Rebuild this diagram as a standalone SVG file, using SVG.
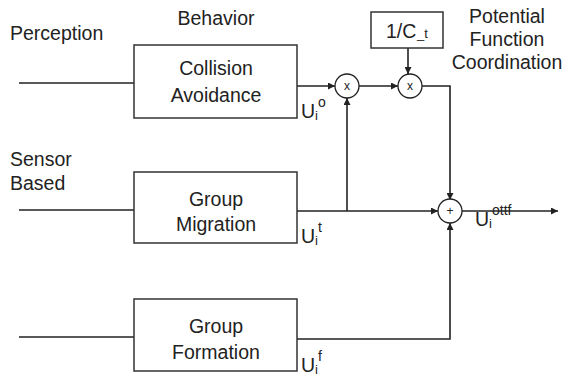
<svg xmlns="http://www.w3.org/2000/svg" width="575" height="379" viewBox="0 0 575 379">
<defs>
<style>
text{font-family:"Liberation Sans",Arial,sans-serif;fill:#222;}
.t{font-size:19.5px;}
.c{text-anchor:middle;}
.s{font-size:13px;}
.p{font-size:14px;}
.box{fill:#fff;stroke:#333;stroke-width:1.5;}
.ln{fill:none;stroke:#222;stroke-width:1.6;}
.ci{fill:#fff;stroke:#222;stroke-width:1.3;}
.op{font-size:12px;text-anchor:middle;}
</style>
<marker id="ah" viewBox="0 0 10 10" refX="10" refY="5" markerWidth="7" markerHeight="7" markerUnits="userSpaceOnUse" orient="auto"><path d="M0,0 L10,5 L0,10 z" fill="#222"/></marker>
</defs>
<rect width="575" height="379" fill="#fff"/>
<text class="t" x="10" y="40">Perception</text>
<text class="t c" x="216" y="25">Behavior</text>
<text class="t" x="10" y="166">Sensor</text>
<text class="t" x="10" y="190">Based</text>
<text class="t c" x="507" y="23">Potential</text>
<text class="t c" x="507" y="46">Function</text>
<text class="t c" x="507" y="69">Coordination</text>
<g id="connectors">
<line class="ln" x1="19" y1="83" x2="134" y2="83"/>
<line class="ln" x1="19" y1="210" x2="134" y2="210"/>
<line class="ln" x1="19" y1="337" x2="134" y2="337"/>
<line class="ln" x1="297" y1="86" x2="335" y2="86" marker-end="url(#ah)"/>
<line class="ln" x1="359" y1="86" x2="398" y2="86" marker-end="url(#ah)"/>
<line class="ln" x1="408" y1="48" x2="408" y2="74" marker-end="url(#ah)"/>
<polyline class="ln" points="422,86 450,86 450,200" marker-end="url(#ah)"/>
<line class="ln" x1="297" y1="211" x2="438" y2="211" marker-end="url(#ah)"/>
<line class="ln" x1="347" y1="211" x2="347" y2="98" marker-end="url(#ah)"/>
<polyline class="ln" points="297,339 450,339 450,223" marker-end="url(#ah)"/>
<line class="ln" x1="462" y1="211" x2="558" y2="211" marker-end="url(#ah)"/>
</g>
<g id="collision">
<rect class="box" x="134" y="45" width="163" height="73"/>
<text class="t c" x="216" y="75">Collision</text>
<text class="t c" x="216" y="102">Avoidance</text>
</g>
<g id="migration">
<rect class="box" x="134" y="172" width="163" height="71"/>
<text class="t c" x="216" y="206">Group</text>
<text class="t c" x="216" y="231">Migration</text>
</g>
<g id="formation">
<rect class="box" x="134" y="299" width="163" height="72"/>
<text class="t c" x="216" y="333">Group</text>
<text class="t c" x="216" y="359">Formation</text>
</g>
<g id="invc">
<rect class="box" x="371" y="12" width="72" height="36"/>
<text class="t" x="386" y="38">1/C</text>
<text class="s" x="417" y="38">_t</text>
</g>
<g id="mult1">
<circle class="ci" cx="347" cy="86" r="12"/>
<text class="op" x="347" y="90">x</text>
</g>
<g id="mult2">
<circle class="ci" cx="410" cy="86" r="12"/>
<text class="op" x="410" y="90">x</text>
</g>
<g id="sum">
<circle class="ci" cx="450" cy="211" r="12"/>
<text class="op" x="450" y="215">+</text>
</g>
<g id="labels">
<text class="t" x="301" y="118">U<tspan class="s" dy="2">i</tspan><tspan class="p" dy="-13">o</tspan></text>
<text class="t" x="301" y="243">U<tspan class="s" dy="2">i</tspan><tspan class="p" dy="-13">t</tspan></text>
<text class="t" x="301" y="372">U<tspan class="s" dy="2">i</tspan><tspan class="p" dy="-13">f</tspan></text>
<text class="t" x="475" y="226">U<tspan class="s" dy="2">i</tspan><tspan class="p" dy="-13">ottf</tspan></text>
</g>
</svg>
